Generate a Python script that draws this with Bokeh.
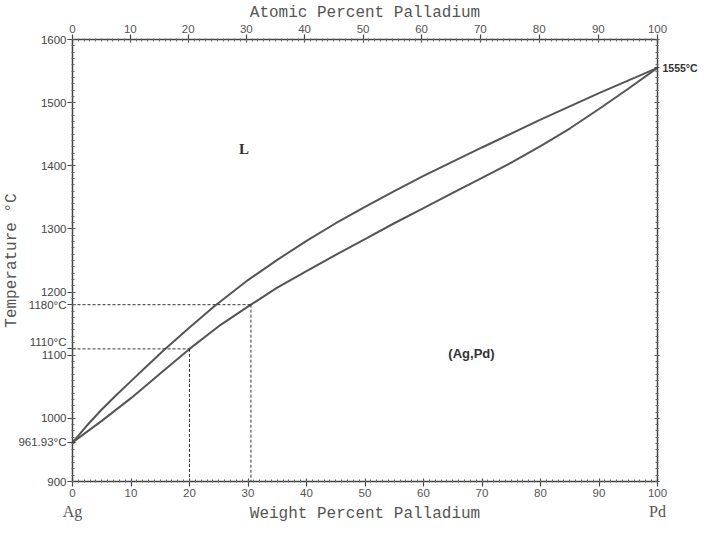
from bokeh.plotting import figure
from bokeh.models import (Range1d, LinearAxis, SingleIntervalTicker, FixedTicker,
                          Label, CustomJSTickFormatter)
from bokeh.embed import file_html
from bokeh.resources import INLINE

# ---- data (weight % Pd, temperature in deg C) ----
liquidus_wt = [0, 2.5, 5, 7.5, 10, 12.5, 15.5, 20, 24.3, 30, 35, 40, 45, 50, 55, 60, 70, 80, 90, 100]
liquidus_T = [961.93, 989, 1014, 1037, 1059, 1081, 1107, 1144, 1178, 1219, 1251, 1281, 1309, 1335,
              1360, 1384, 1429, 1473, 1515, 1555]
solidus_wt = [0, 5, 10, 15, 20, 25, 30.5, 35, 40, 45, 50, 55, 60, 65, 70, 75, 80, 85, 90, 95, 100]
solidus_T = [961.93, 996, 1032, 1071, 1110, 1146, 1180, 1207, 1233, 1259, 1284, 1309, 1333, 1357,
             1381, 1405, 1431, 1459, 1490, 1522, 1555]

guide_T = [1110, 1180]          # marked temperatures
guide_wt = [20, 30.5]           # solidus composition at those temperatures

temp_ticks = [900, 1000, 1100, 1200, 1300, 1400, 1500, 1600]
atomic_ticks = [0, 10, 20, 30, 40, 50, 60, 70, 80, 90, 100]
M_AG, M_PD = 107.8682, 106.42

melt_T = [961.93, 1555]                     # Ag, Pd melting points
melt_labels = ["961.93°C", "1555°C"]
guide_labels = ["1110°C\n\u00a0", "1180°C"]
element_wt = [0, 100]
element_labels = ["Ag", "Pd"]


def at_to_wt(a):
    return 100.0 * a * M_PD / (a * M_PD + (100.0 - a) * M_AG)


top_major = [at_to_wt(a) for a in atomic_ticks]
top_minor = [at_to_wt(a) for a in range(0, 101)]
temp_minor = list(range(temp_ticks[0], temp_ticks[-1] + 1, 10))

AX = "#444444"
TXT = "#555555"

p = figure(width=700, height=525, x_range=Range1d(0, 100), y_range=Range1d(900, 1600),
           output_backend="svg", toolbar_location=None,
           min_border_left=67, min_border_right=42, min_border_top=39, min_border_bottom=42)
p.xgrid.visible = False
p.ygrid.visible = False
p.outline_line_color = None
p.background_fill_color = "white"


def style(ax, label_standoff=2):
    ax.axis_line_color = AX
    ax.axis_line_width = 1.5
    ax.major_tick_line_color = AX
    ax.major_tick_line_width = 1.2
    ax.major_tick_in = 3
    ax.major_tick_out = 5
    ax.minor_tick_line_color = "#666666"
    ax.minor_tick_in = 2
    ax.minor_tick_out = 1
    ax.major_label_text_font = "Liberation Sans"
    ax.major_label_text_font_size = "11.5px"
    ax.major_label_text_color = TXT
    ax.major_label_standoff = label_standoff
    ax.axis_label_text_font = "Liberation Mono"
    ax.axis_label_text_font_size = "16px"
    ax.axis_label_text_font_style = "normal"
    ax.axis_label_text_color = TXT


def lookup_formatter(vals, labels, default_number):
    return CustomJSTickFormatter(
        args=dict(tvals=list(vals), tlabels=list(labels)),
        code="""
        for (let i = 0; i < tvals.length; i++) {
            if (Math.abs(tvals[i] - tick) < 1e-6) return tlabels[i];
        }
        return %s;""" % ("Math.round(tick).toString()" if default_number else "''"))


# bottom: numeric weight-percent axis
xb = p.xaxis[0]
xb.ticker = SingleIntervalTicker(interval=10, num_minor_ticks=10)
style(xb)

# second bottom row: element names and the axis title on the same line
xe = LinearAxis(ticker=FixedTicker(ticks=element_wt, minor_ticks=[]),
                formatter=lookup_formatter(element_wt, element_labels, False),
                axis_label="Weight Percent Palladium")
style(xe)
xe.axis_line_color = None
xe.major_tick_line_color = None
xe.minor_tick_line_color = None
xe.major_tick_in = xe.major_tick_out = 0
xe.minor_tick_in = xe.minor_tick_out = 0
xe.major_label_text_font = "Liberation Serif"
xe.major_label_text_font_size = "16px"
xe.major_label_standoff = 3
xe.axis_label_standoff = -18
p.add_layout(xe, "below")

# left: temperatures plus the marked temperatures
left_major = temp_ticks + melt_T[:1] + guide_T
yl = p.yaxis[0]
yl.ticker = FixedTicker(ticks=left_major, minor_ticks=temp_minor)
yl.formatter = lookup_formatter(melt_T[:1] + guide_T, melt_labels[:1] + guide_labels, True)
yl.axis_label = "Temperature °C"
style(yl, label_standoff=1)
yl.major_label_text_color = "#444444"
yl.axis_label_standoff = -6

# top: atomic percent
xt = LinearAxis(ticker=FixedTicker(ticks=top_major, minor_ticks=top_minor),
                formatter=CustomJSTickFormatter(code="""
                    const w = tick;
                    const a = 100*(w/106.42)/((w/106.42)+((100-w)/107.8682));
                    return Math.round(a).toString();"""),
                axis_label="Atomic Percent Palladium")
style(xt)
xt.axis_label_standoff = 0
p.add_layout(xt, "above")

# right: only the Pd melting point is labelled
yr = LinearAxis(ticker=FixedTicker(ticks=temp_ticks + melt_T[1:], minor_ticks=temp_minor),
                formatter=lookup_formatter(melt_T[1:], melt_labels[1:], False))
style(yr, label_standoff=3)
yr.major_tick_out = 2
yr.major_label_text_font_style = "bold"
yr.major_label_text_font_size = "10.5px"
yr.major_label_text_color = "#333333"
p.add_layout(yr, "right")

# phase boundaries
p.line(liquidus_wt, liquidus_T, line_color="#555555", line_width=2)
p.line(solidus_wt, solidus_T, line_color="#555555", line_width=2)

# dashed guide lines
p.segment(x0=[0] * len(guide_T), y0=guide_T, x1=guide_wt, y1=guide_T,
          line_color="#333333", line_width=1, line_dash="3 2")
p.segment(x0=guide_wt, y0=guide_T, x1=guide_wt, y1=[p.y_range.start] * len(guide_T),
          line_color="#333333", line_width=1, line_dash="3 2")

# phase field labels
p.add_layout(Label(x=29.3, y=1426, text="L", text_font="Liberation Serif", text_font_style="bold",
                   text_font_size="15px", text_align="center", text_baseline="middle",
                   text_color="#333333"))
p.add_layout(Label(x=68.2, y=1102, text="(Ag,Pd)", text_font="Liberation Sans",
                   text_font_style="bold", text_font_size="13px", text_align="center",
                   text_baseline="middle", text_color="#333333"))

open("out.html", "w").write(file_html(p, INLINE))
